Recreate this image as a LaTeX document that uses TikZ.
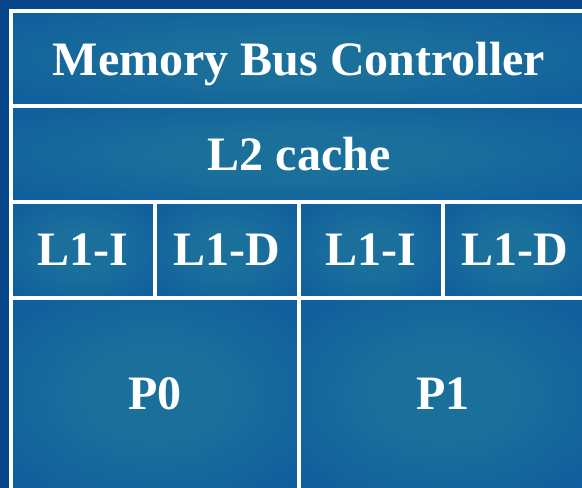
\documentclass[tikz,border=0pt]{standalone}
\usepackage{fontspec}
\setmainfont{Liberation Serif}
\definecolor{bgblue}{RGB}{8,70,140}
\definecolor{cellin}{RGB}{27,112,155}
\definecolor{cellout}{RGB}{8,80,160}
\pgfdeclareradialshading{cellshade}{\pgfpoint{0bp}{0bp}}{color(0bp)=(cellin); color(10bp)=(cellin); color(52bp)=(cellout); color(75bp)=(cellout)}
\tikzset{
  cell/.style={draw=white, line width=4pt, shading=cellshade,
    text=white, font=\fontsize{48}{56}\selectfont\bfseries, inner sep=0pt, outer sep=0pt,
    text depth=0pt, anchor=center}
}
\begin{document}
\begin{tikzpicture}[x=1pt,y=-1pt]
\useasboundingbox (0,0) rectangle (582,488);
\clip (0,0) rectangle (582,488);
\fill[bgblue] (0,0) rectangle (582,488);
\node[cell, minimum width=576pt, minimum height=95pt] (mbc) at (299,58.5) {Memory Bus Controller};
\node[cell, minimum width=576pt, minimum height=96pt] (l2) at (299,154) {L2 cache};
\node[cell, minimum width=144pt, minimum height=96pt] (l1ia) at (83,250) {L1-I};
\node[cell, minimum width=144pt, minimum height=96pt] (l1da) at (227,250) {L1-D};
\node[cell, minimum width=144pt, minimum height=96pt] (l1ib) at (371,250) {L1-I};
\node[cell, minimum width=144pt, minimum height=96pt] (l1db) at (515,250) {L1-D};
\node[cell, minimum width=288pt, minimum height=192pt] (p0) at (155,394) {P0};
\node[cell, minimum width=288pt, minimum height=192pt] (p1) at (443,394) {P1};
\end{tikzpicture}
\end{document}
